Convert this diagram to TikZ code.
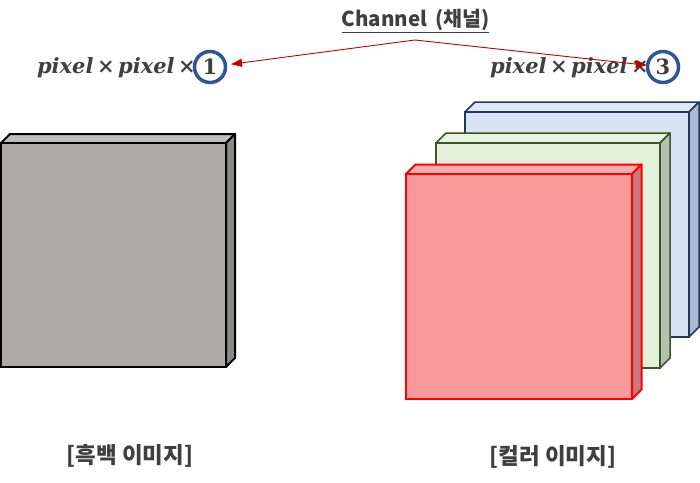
\documentclass[tikz,border=0pt]{standalone}
\usepackage{fontspec}
\setmainfont{DejaVu Serif}
\newfontfamily\kr{Noto Sans CJK KR}
\usetikzlibrary{arrows.meta}
\definecolor{txt}{HTML}{3F3F3F}
\definecolor{arrred}{HTML}{C00000}
\definecolor{circblue}{HTML}{2F5597}
\definecolor{gfront}{HTML}{AEAAAA}
\definecolor{gtop}{HTML}{C0BDBD}
\definecolor{gside}{HTML}{8B8787}
\definecolor{bfront}{HTML}{DAE3F3}
\definecolor{btop}{HTML}{E0E7F5}
\definecolor{bside}{HTML}{ADB9CA}
\definecolor{bborder}{HTML}{203864}
\definecolor{grfront}{HTML}{E2F0D9}
\definecolor{grtop}{HTML}{E8F3E1}
\definecolor{grside}{HTML}{B5C1AD}
\definecolor{grborder}{HTML}{385723}
\definecolor{rfront}{HTML}{F8999A}
\definecolor{rtop}{HTML}{F9ADAD}
\definecolor{rside}{HTML}{C97A7B}
\definecolor{rborder}{HTML}{FF0000}
% #1 x0, #2 y0, #3 x1, #4 y1, #5 depth, #6 front, #7 top, #8 side, #9 border
\newcommand{\mycube}[9]{%
  \filldraw[fill=#7,draw=#9,line join=round] (#1,#2) -- ({#1+#5},{#2-#5}) -- ({#3+#5},{#2-#5}) -- (#3,#2) -- cycle;
  \filldraw[fill=#8,draw=#9,line join=round] (#3,#2) -- ({#3+#5},{#2-#5}) -- ({#3+#5},{#4-#5}) -- (#3,#4) -- cycle;
  \filldraw[fill=#6,draw=#9] (#1,#2) rectangle (#3,#4);
}
\begin{document}
\begin{tikzpicture}[x=1pt,y=-1pt,
  lbl/.style={font=\kr\bfseries\fontsize{22.5}{26}\selectfont, text=txt, inner sep=0pt},
  formula/.style={font=\bfseries\itshape\fontsize{21}{24}\selectfont, text=txt, inner sep=0pt},
  numcirc/.style={circle, draw=circblue, line width=3.5pt, minimum size=31pt, inner sep=0pt,
    font=\bfseries\fontsize{21}{24}\selectfont, text=txt},
  conn/.style={draw=arrred, line width=0.9pt, -{Triangle[length=11pt,width=8pt]}}]
\useasboundingbox (0,0) rectangle (700,482);
% cubes
\begin{scope}[line width=2pt]
\mycube{1}{143}{226}{367}{9}{gfront}{gtop}{gside}{black}
\end{scope}
\begin{scope}[line width=1.5pt]
\mycube{465}{112}{689}{337}{10}{bfront}{btop}{bside}{bborder}
\mycube{436}{143}{660}{368}{10}{grfront}{grtop}{grside}{grborder}
\end{scope}
\begin{scope}[line width=2pt]
\mycube{406}{174}{632}{399}{9.5}{rfront}{rtop}{rside}{rborder}
\end{scope}
% texts
\node[lbl, font=\kr\bfseries\fontsize{20.5}{24}\selectfont] (ch) at (415.5,21) {\underline{Channel\, (채널)}};
\node[lbl] (gray) at (130,456) {[흑백 이미지]};
\node[lbl] (color) at (553,457) {[컬러 이미지]};
\node[formula, anchor=east] (f1) at (196,68) {pixel\,{\upshape ×}\,pixel\,{\upshape ×}};
\node[numcirc] (c1) at (210,67) {1};
\node[formula, anchor=east] (f3) at (649,68) {pixel\,{\upshape ×}\,pixel\,{\upshape ×}};
\node[numcirc] (c3) at (663,67) {3};
% connectors
\coordinate (apex) at (415,40);
\draw[conn, shorten >=4pt] (apex) -- (c1);
\draw[conn, shorten >=-1pt] (apex) -- (c3);
\end{tikzpicture}
\end{document}
